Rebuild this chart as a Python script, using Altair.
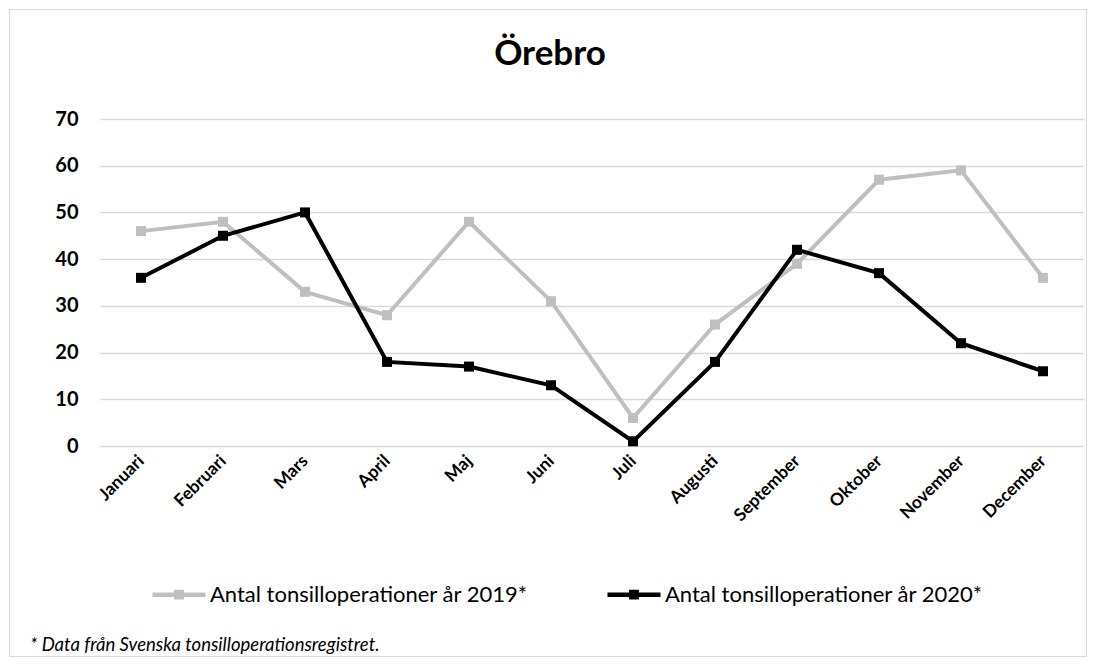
import altair as alt
import pandas as pd

months = ["Januari", "Februari", "Mars", "April", "Maj", "Juni", "Juli",
          "Augusti", "September", "Oktober", "November", "December"]
values_2019 = [46, 48, 33, 28, 48, 31, 6, 26, 39, 57, 59, 36]
values_2020 = [36, 45, 50, 18, 17, 13, 1, 18, 42, 37, 22, 16]
series_names = ["Antal tonsilloperationer år 2019*", "Antal tonsilloperationer år 2020*"]
series_colors = ["#bfbfbf", "#000000"]
title_text = "Örebro"
footnote_text = "* Data från Svenska tonsilloperationsregistret."

rows = []
for m, v in zip(months, values_2019):
    rows.append({"Månad": m, "Serie": series_names[0], "Antal": v})
for m, v in zip(months, values_2020):
    rows.append({"Månad": m, "Serie": series_names[1], "Antal": v})
df = pd.DataFrame(rows)

W, H = 984, 327
FONT = "Lato"

legend_path = "M-1,0H1M-0.1,-0.1H0.1V0.1H-0.1ZM-0.05,-0.05H0.05V0.05H-0.05Z"

lines = alt.Chart(df).mark_line(
    strokeWidth=4,
    point=alt.OverlayMarkDef(shape="square", filled=True, size=100, opacity=1),
).encode(
    x=alt.X("Månad:N", sort=months, title=None,
            scale=alt.Scale(padding=0.5),
            axis=alt.Axis(labelAngle=-45, labelAlign="right", labelBaseline="middle",
                          labelFont=FONT, labelFontWeight="bold", labelFontSize=17.5,
                          labelColor="#000000", labelPadding=12, ticks=False,
                          domain=False, grid=False)),
    y=alt.Y("Antal:Q", title=None,
            scale=alt.Scale(domain=[0, 70], nice=False),
            axis=alt.Axis(values=[0, 10, 20, 30, 40, 50, 60, 70], labelFont=FONT,
                          labelFontWeight="bold", labelFontSize=20, labelColor="#000000",
                          labelPadding=22, ticks=False, domain=False,
                          gridColor="#d9d9d9", gridWidth=1.3)),
    color=alt.Color("Serie:N", sort=series_names,
                    scale=alt.Scale(domain=series_names, range=series_colors),
                    legend=alt.Legend(title=None, orient="none", legendX=50, legendY=446.5,
                                      direction="horizontal", labelFont=FONT,
                                      labelFontSize=22, labelColor="#000000",
                                      labelLimit=0,
                                      symbolType=legend_path, symbolSize=2809,
                                      symbolStrokeWidth=4.5, labelOffset=2,
                                      columnPadding=70, padding=0)),
)

title_df = pd.DataFrame({"t": [title_text]})
title_mark = alt.Chart(title_df).mark_text(
    font=FONT, fontSize=35, fontWeight="bold", color="#000000",
    align="center", baseline="alphabetic",
).encode(text="t:N", x=alt.value(450), y=alt.value(-54))

foot_df = pd.DataFrame({"t": [footnote_text]})
foot_mark = alt.Chart(foot_df).mark_text(
    font=FONT, fontSize=18.5, fontStyle="italic", color="#000000",
    align="left", baseline="alphabetic",
).encode(text="t:N", x=alt.value(-70), y=alt.value(532))

border_df = pd.DataFrame({"b": [1]})
border = alt.Chart(border_df).mark_rect(
    fill=None, stroke="#d9d9d9", strokeWidth=1,
).encode(x=alt.value(-90.5), x2=alt.value(986.5), y=alt.value(-109.5), y2=alt.value(537.5))

chart = alt.layer(border, lines, title_mark, foot_mark).properties(
    width=W, height=H,
    padding={"left": 92, "top": 111, "right": 3, "bottom": 211},
    autosize=alt.AutoSizeParams(type="none"),
    background="#ffffff",
).configure_view(stroke=None)

chart.save("out.html", embed_options={"renderer": "svg", "actions": False})
